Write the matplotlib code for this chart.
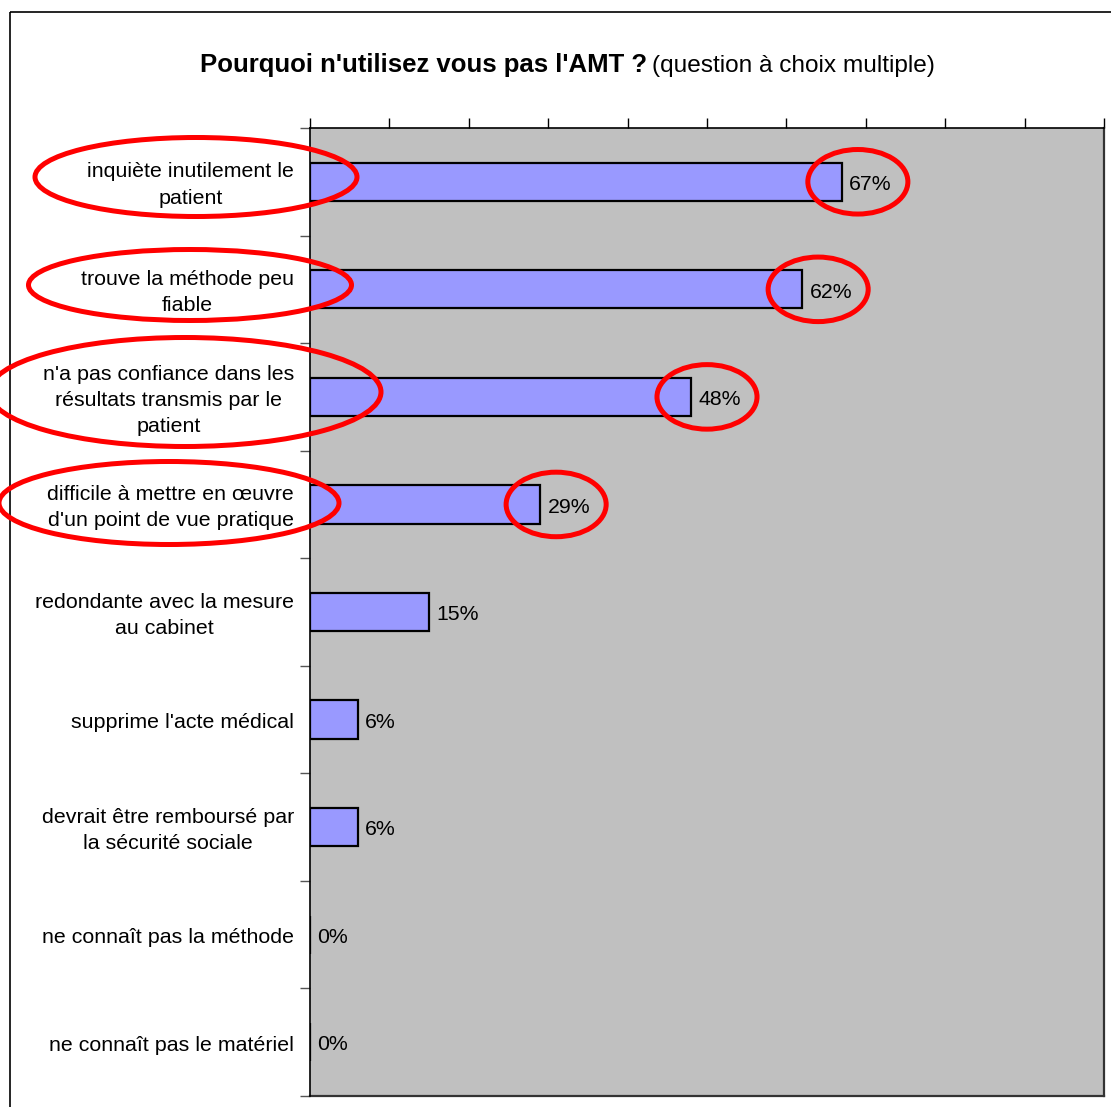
import matplotlib
matplotlib.use("Agg")
import matplotlib.pyplot as plt
from matplotlib.patches import Ellipse, Rectangle
from matplotlib.transforms import Affine2D

plt.rcParams['font.family'] = ['Liberation Sans', 'DejaVu Sans']

# données
categories = [
    "inquiète inutilement le\npatient",
    "trouve la méthode peu\nfiable",
    "n'a pas confiance dans les\nrésultats transmis par le\npatient",
    "difficile à mettre en œuvre\nd'un point de vue pratique",
    "redondante avec la mesure\nau cabinet",
    "supprime l'acte médical",
    "devrait être remboursé par\nla sécurité sociale",
    "ne connaît pas la méthode",
    "ne connaît pas le matériel",
]
values = [67, 62, 48, 29, 15, 6, 6, 0, 0]
value_labels = ["67%", "62%", "48%", "29%", "15%", "6%", "6%", "0%", "0%"]
circled = [0, 1, 2, 3]

W, H = 1111, 1107
fig = plt.figure(figsize=(W / 100, H / 100), dpi=100)
# repère en pixels de l'image (origine en haut à gauche)
px = Affine2D().scale(1 / W, -1 / H).translate(0, 1) + fig.transFigure

ax = fig.add_axes([310 / W, 1 - 1096 / H, (1104 - 310) / W, (1096 - 128) / H])
ax.set_facecolor('#C0C0C0')

y = list(range(len(categories)))
ax.barh(y, values, height=0.355, color='#9999FF', edgecolor='black', linewidth=1.6)
ax.set_xlim(0, 100)
ax.set_ylim(len(categories) - 0.5, -0.5)

# axe des valeurs en haut, sans étiquettes
ax.xaxis.set_ticks_position('top')
ax.set_xticks(range(0, 101, 10))
ax.set_xticklabels([])
ax.tick_params(axis='x', length=7, width=1, color='black', direction='out')
ax.set_yticks([i - 0.5 for i in range(len(categories) + 1)])
ax.set_yticklabels([])
ax.tick_params(axis='y', length=7, width=1, color='#555555', direction='out')
for s in ['left', 'top']:
    ax.spines[s].set_color('black')
    ax.spines[s].set_linewidth(1.2)
    ax.spines[s].set_zorder(4)
for s in ['right', 'bottom']:
    ax.spines[s].set_color('#333333')
    ax.spines[s].set_linewidth(1.6)

# étiquettes des catégories
for i, lab in enumerate(categories):
    ax.text(-2.0, i + 0.03, lab, ha='right', va='center', ma='center', fontsize=15.4,
            linespacing=1.47, transform=ax.transData, clip_on=False)

# étiquettes des valeurs
for i, (v, lab) in enumerate(zip(values, value_labels)):
    ax.text(v + 0.9, i + 0.025, lab, ha='left', va='center', fontsize=15.3)

# ellipses rouges autour des valeurs
for i in circled:
    ax.add_patch(Ellipse((values[i] + 2.0, i), 12.6, 0.6, fill=False,
                         edgecolor='#FF0000', linewidth=3.6, clip_on=False, zorder=5))

# ellipses rouges autour des libellés
label_ellipses = [(196, 177, 322, 79), (190, 285, 323, 71),
                  (185, 392, 392, 109), (169, 503, 340, 83)]
for cx, cy, w, h in label_ellipses:
    fig.add_artist(Ellipse((cx, cy), w, h, fill=False, edgecolor='#FF0000',
                           linewidth=3.6, transform=px, zorder=6))

# cadre du graphique
fig.add_artist(Rectangle((10, 12), W + 20, H + 20, fill=False, edgecolor='black',
                         linewidth=1.2, transform=px))

# titre
fig.text(200 / W, 1 - 72 / H, "Pourquoi n'utilisez vous pas l'AMT ?", fontsize=18.5,
         fontweight='bold', ha='left', va='baseline')
fig.text(652 / W, 1 - 72 / H, "(question à choix multiple)", fontsize=17.6,
         ha='left', va='baseline')

fig.savefig('out.png', dpi=100)
